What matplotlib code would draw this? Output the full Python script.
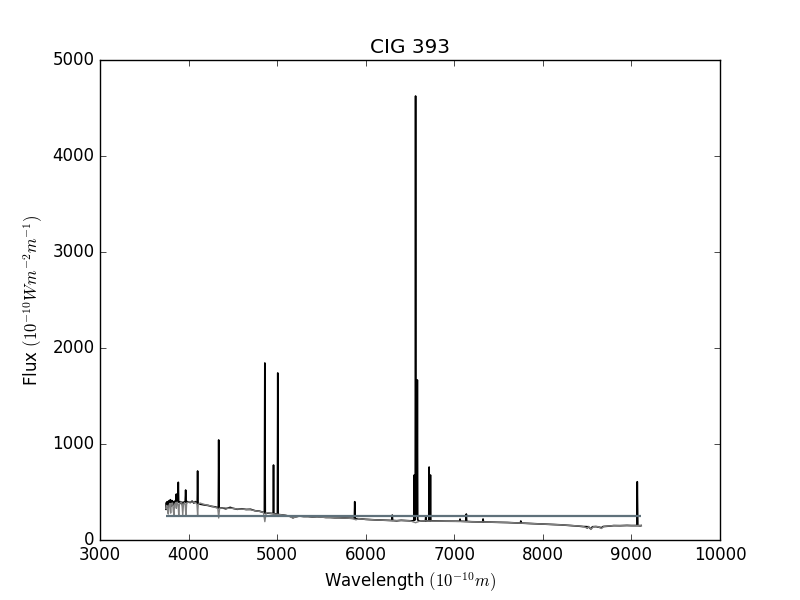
import matplotlib
matplotlib.use("Agg")
import matplotlib.pyplot as plt

title = "CIG 393"

obs_wave = [3745, 3750, 3755, 3760, 3765, 3770, 3775, 3780, 3785, 3790, 3795, 3800, 3805, 3810,
            3815, 3820, 3830, 3840, 3850, 3857, 3862, 3866, 3872, 3880, 3884, 3888, 3895, 3905,
            3915, 3925, 3935, 3945, 3955, 3962, 3967, 3972, 3985, 4000, 4020, 4040, 4060, 4075,
            4090, 4098, 4102, 4106, 4120, 4150, 4180, 4220, 4260, 4300, 4336, 4340, 4344, 4380,
            4420, 4470, 4500, 4550, 4600, 4650, 4700, 4750, 4800, 4840, 4856, 4861, 4866, 4900,
            4955, 4959, 4963, 5003, 5007, 5011, 5050, 5100, 5150, 5180, 5200, 5250, 5300, 5350,
            5400, 5450, 5500, 5550, 5600, 5650, 5700, 5750, 5800, 5850, 5872, 5876, 5880, 5900,
            5950, 6000, 6050, 6100, 6150, 6200, 6250, 6296, 6300, 6304, 6350, 6400, 6450, 6500,
            6530, 6544, 6548, 6552, 6559, 6563, 6567, 6579, 6583, 6587, 6600, 6650, 6674, 6678,
            6682, 6712, 6716, 6721, 6727, 6731, 6735, 6800, 6900, 7000, 7060, 7065, 7070, 7132,
            7136, 7140, 7200, 7280, 7320, 7325, 7330, 7400, 7500, 7600, 7700, 7747, 7751, 7755,
            7800, 7900, 8000, 8100, 8200, 8300, 8400, 8450, 8494, 8500, 8510, 8542, 8560, 8600,
            8662, 8680, 8750, 8800, 8871, 8950, 9000, 9062, 9066, 9072, 9100, 9110]
obs_flux = [320, 390, 340, 400, 330, 380, 350, 410, 360, 395, 420, 350, 400, 370,
            410, 360, 400, 380, 410, 390, 479, 400, 390, 410, 601, 400, 390, 400,
            380, 395, 350, 395, 390, 400, 521, 395, 400, 395, 390, 405, 385, 400,
            390, 385, 719, 380, 375, 370, 365, 360, 350, 345, 335, 1042, 330, 335,
            325, 340, 330, 320, 325, 318, 320, 305, 300, 290, 285, 1844, 280, 280,
            275, 781, 275, 270, 1740, 265, 262, 255, 245, 232, 240, 250, 245, 245,
            240, 243, 240, 235, 235, 232, 232, 230, 228, 225, 225, 399, 220, 222,
            220, 215, 212, 210, 208, 206, 205, 203, 260, 203, 200, 205, 202, 200,
            200, 205, 677, 210, 210, 4625, 250, 250, 1667, 210, 200, 198, 198, 243,
            198, 200, 760, 200, 200, 677, 200, 198, 196, 195, 195, 218, 195, 193,
            271, 193, 190, 188, 188, 219, 188, 186, 184, 182, 178, 176, 198, 176,
            174, 170, 166, 162, 158, 152, 145, 140, 139, 125, 140, 115, 138, 140,
            128, 140, 145, 150, 149, 152, 150, 150, 607, 150, 148, 150]

model_wave = [3745, 3755, 3765, 3771, 3778, 3790, 3798, 3805, 3820, 3828, 3835, 3842, 3855, 3862,
              3870, 3882, 3889, 3896, 3910, 3925, 3934, 3942, 3955, 3962, 3970, 3978, 3995, 4020,
              4050, 4080, 4095, 4102, 4109, 4130, 4160, 4200, 4250, 4300, 4330, 4340, 4350, 4400,
              4450, 4500, 4550, 4600, 4650, 4700, 4750, 4800, 4845, 4861, 4877, 4920, 4960, 5000,
              5050, 5100, 5150, 5175, 5200, 5250, 5300, 5350, 5400, 5450, 5500, 5550, 5600, 5650,
              5700, 5750, 5800, 5850, 5890, 5920, 6000, 6100, 6200, 6300, 6400, 6500, 6563, 6620,
              6700, 6800, 6900, 7000, 7100, 7200, 7300, 7400, 7500, 7600, 7700, 7800, 7900, 8000,
              8100, 8200, 8300, 8400, 8450, 8498, 8520, 8542, 8570, 8620, 8662, 8690, 8750, 8800,
              8900, 9000, 9110]
model_flux = [330, 360, 300, 270, 360, 380, 280, 380, 385, 300, 260, 370, 390, 330,
              395, 370, 260, 370, 395, 385, 260, 370, 390, 370, 250, 380, 395, 395,
              395, 390, 370, 260, 370, 385, 375, 365, 355, 340, 330, 229, 330, 335,
              330, 330, 322, 322, 318, 315, 305, 298, 288, 191, 285, 280, 272, 268,
              262, 255, 245, 228, 238, 248, 244, 244, 240, 242, 238, 235, 234, 232,
              231, 229, 227, 224, 210, 222, 215, 210, 206, 203, 203, 200, 180, 200,
              198, 197, 196, 195, 193, 190, 188, 186, 184, 182, 178, 174, 170, 166,
              162, 158, 152, 146, 142, 125, 140, 110, 138, 140, 120, 142, 146, 150,
              150, 150, 152]

cont_level = 250

plt.style.use("classic")
plt.rcParams["figure.facecolor"] = "white"
plt.rcParams["savefig.facecolor"] = "white"

fig = plt.figure(figsize=(8, 6), dpi=100)
ax = fig.add_subplot(111)
ax.plot(obs_wave, obs_flux, color="black", lw=1.2)
ax.plot(model_wave, model_flux, color="0.5", lw=1.0)
ax.hlines(cont_level, obs_wave[0], obs_wave[-1], color="#5f717b", lw=1.6)

ax.set_xlim(3000, 10000)
ax.set_ylim(0, 5000)
ax.set_title(title)
ax.set_xlabel(r"Wavelength $(10^{-10} m)$")
ax.set_ylabel(r"Flux $(10^{-10} W m^{-2} m^{-1})$")

fig.savefig("out.png", dpi=100, facecolor="white")
